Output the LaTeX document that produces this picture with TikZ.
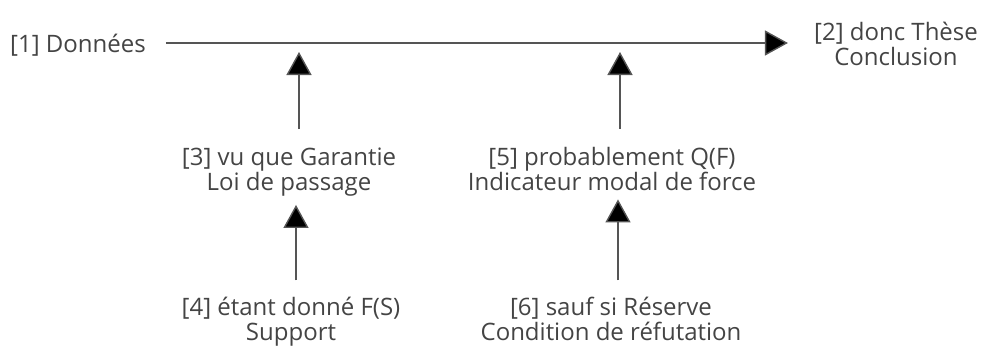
\documentclass[tikz,border=0pt]{standalone}
\usepackage{fontspec}
\setmainfont{Open Sans}
\usetikzlibrary{arrows.meta}
\definecolor{txt}{HTML}{444444}
\definecolor{ln}{HTML}{555555}
\begin{document}
\begin{tikzpicture}[x=1pt,y=-1pt,
  lbl/.style={font=\fontsize{24}{25}\selectfont, text=txt, align=center, inner sep=0pt, anchor=base},
  arr/.style={draw=ln, line width=1.4pt, -{Triangle[length=23pt,width=25pt,fill=black]}}]
\useasboundingbox (0,0) rectangle (985,356);
\node[lbl] (t1) at (78,52) {[1] Données};
\node[lbl] (t2) at (896,65) {[2] donc Thèse\\Conclusion};
\node[lbl] (t3) at (289,190) {[3] vu que Garantie\\Loi de passage};
\node[lbl] (t5) at (612,190) {[5] probablement Q(F)\\Indicateur modal de force};
\node[lbl] (t4) at (291,340) {[4] étant donné F(S)\\Support};
\node[lbl] (t6) at (611,340) {[6] sauf si Réserve\\Condition de réfutation};
\coordinate (m) at (0,43);
\coordinate (w1) at (299,52);
\coordinate (w2) at (620,52);
\coordinate (c1) at (296,0);
\coordinate (c2) at (618,0);
\draw[arr, shorten <=20pt, shorten >=26pt] (t1.east |- m) -- (t2.west |- m);
\draw[arr, shorten <=18pt] (t3.north -| w1) -- (w1);
\draw[arr, shorten <=18pt] (t5.north -| w2) -- (w2);
\draw[arr, shorten <=16pt, shorten >=9pt] (t4.north -| c1) -- (t3.south -| c1);
\draw[arr, shorten <=16pt, shorten >=9pt] (t6.north -| c2) -- (t5.south -| c2);
\end{tikzpicture}
\end{document}
